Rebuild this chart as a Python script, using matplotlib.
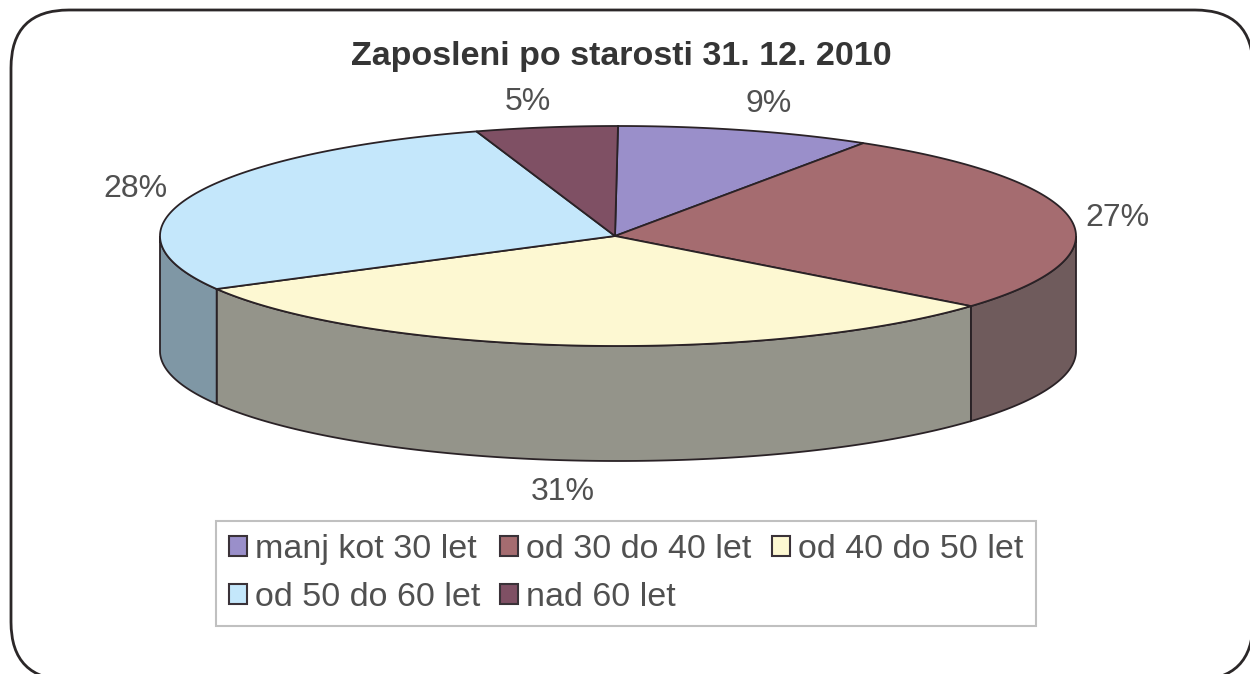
import numpy as np
import matplotlib
matplotlib.use("Agg")
import matplotlib.pyplot as plt
from matplotlib.patches import Polygon, Patch, FancyBboxPatch

TITLE = "Zaposleni po starosti 31. 12. 2010"
categories = ["manj kot 30 let", "od 30 do 40 let", "od 40 do 50 let", "od 50 do 60 let", "nad 60 let"]
values = [9, 27, 31, 28, 5]
top_colors = ["#9a8fca", "#a56c70", "#fdf8d2", "#c4e7fb", "#7f5064"]
side_colors = ["#6b648c", "#6f5b5c", "#94948a", "#7f97a5", "#5a3a46"]
legend_order = [0, 3, 1, 4, 2]
label_pos = [(769, 104), (1117, 218), (563, 492), (135, 189), (528, 102)]

CX, CY, RX, RY, DEPTH = 618, 236, 458, 110, 115
HUB_X = 615
EDGE = "#2a2226"
FONT = "Liberation Sans"

plt.rcParams["font.family"] = [FONT, "DejaVu Sans"]
fig = plt.figure(figsize=(12.5, 6.74), dpi=100, facecolor="white")
ax = fig.add_axes([0, 0, 1, 1])
ax.set_xlim(0, 1250)
ax.set_ylim(674, 0)
ax.axis("off")

ax.add_patch(FancyBboxPatch((69, 68), 1126, 554, boxstyle="round,pad=58,rounding_size=58",
                            fc="white", ec="#2b2728", lw=2.0, clip_on=True, zorder=0))


def arc(a0, a1, dy=0.0):
    t = np.radians(np.linspace(a0, a1, 200))
    return np.column_stack([CX + RX * np.sin(t), CY + dy - RY * np.cos(t)])


edges = np.cumsum([0] + values) / sum(values) * 360
for i, v in enumerate(values):
    a0, a1 = edges[i], edges[i + 1]
    s0, s1 = max(a0, 90), min(a1, 270)
    if s1 > s0:
        front = arc(s0, s1)
        back = arc(s0, s1, DEPTH)[::-1]
        ax.add_patch(Polygon(np.vstack([front, back]), closed=True, fc=side_colors[i],
                             ec=EDGE, lw=1.3, zorder=2))
for i, v in enumerate(values):
    pts = np.vstack([[HUB_X, CY], arc(edges[i], edges[i + 1])])
    ax.add_patch(Polygon(pts, closed=True, fc=top_colors[i], ec=EDGE, lw=1.3, zorder=3))

for v, (x, y) in zip(values, label_pos):
    ax.text(x, y, f"{v}%", ha="center", va="center", fontsize=23, color="#505050")

ax.text(621, 57, TITLE, ha="center", va="center", fontsize=24.5, fontweight="bold", color="#353535")

handles = [Patch(fc=top_colors[i], ec="#3a3238", lw=1.5, label=categories[i]) for i in legend_order]
leg = ax.legend(handles=handles, ncol=3, loc="upper left", bbox_to_anchor=(216, 521),
                bbox_transform=ax.transData, borderaxespad=0, fontsize=24.5, frameon=True,
                fancybox=False, edgecolor="#c0c0c0", facecolor="white", framealpha=1,
                handlelength=0.53, handleheight=0.53, handletextpad=0.235, columnspacing=0.59,
                labelspacing=0.5, borderpad=0.38, labelcolor="#505050")
leg.get_frame().set_linewidth(1.5)

fig.savefig("out.png", dpi=100)
